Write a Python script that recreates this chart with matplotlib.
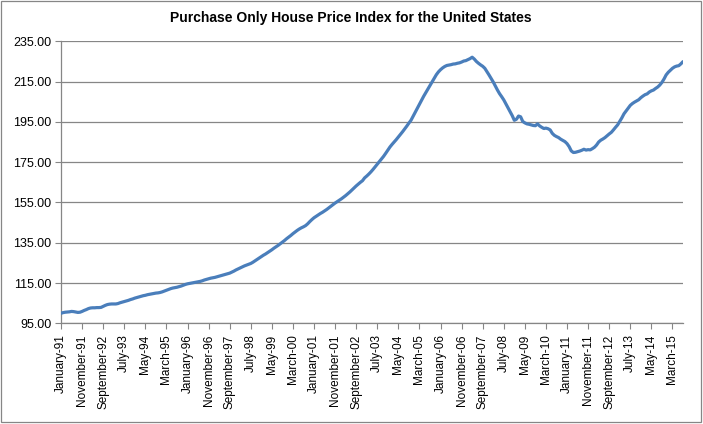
import matplotlib
matplotlib.use("Agg")
import matplotlib.pyplot as plt
import matplotlib.patches as mpatches
import matplotlib.ticker as mticker
import numpy as np
import pandas as pd

# ── Data: monthly purchase-only HPI, Jan 1991 = 100 ───────────────────────────
start_month = "1991-01"
hpi = [
    100.0, 100.3, 100.5, 100.6, 100.7, 100.9, 100.8, 100.6, 100.4, 100.5, 100.9, 101.4,  # 1991
    101.8, 102.3, 102.6, 102.7, 102.7, 102.8, 102.8, 102.9, 103.4, 103.9, 104.3, 104.5,  # 1992
    104.6, 104.6, 104.6, 104.8, 105.2, 105.5, 105.8, 106.1, 106.4, 106.8, 107.1, 107.5,  # 1993
    107.8, 108.1, 108.4, 108.7, 108.9, 109.2, 109.4, 109.6, 109.8, 110.0, 110.1, 110.3,  # 1994
    110.6, 111.0, 111.4, 111.8, 112.2, 112.5, 112.7, 112.9, 113.2, 113.5, 113.9, 114.3,  # 1995
    114.6, 114.8, 115.0, 115.2, 115.4, 115.6, 115.8, 116.1, 116.5, 116.8, 117.1, 117.4,  # 1996
    117.6, 117.8, 118.1, 118.4, 118.7, 119.0, 119.3, 119.6, 119.9, 120.4, 120.9, 121.5,  # 1997
    122.0, 122.5, 123.0, 123.5, 123.9, 124.3, 124.7, 125.3, 126.0, 126.7, 127.4, 128.1,  # 1998
    128.8, 129.4, 130.1, 130.8, 131.5, 132.3, 133.0, 133.7, 134.5, 135.3, 136.1, 137.0,  # 1999
    137.8, 138.6, 139.5, 140.3, 141.1, 141.8, 142.4, 142.9, 143.5, 144.4, 145.5, 146.5,  # 2000
    147.4, 148.1, 148.8, 149.5, 150.1, 150.8, 151.5, 152.3, 153.1, 153.9, 154.7, 155.4,  # 2001
    156.1, 156.8, 157.6, 158.4, 159.3, 160.2, 161.2, 162.2, 163.2, 164.1, 165.0, 165.8,  # 2002
    167.2, 168.1, 169.1, 170.2, 171.4, 172.7, 174.0, 175.3, 176.6, 177.9, 179.4, 181.0,  # 2003
    182.5, 183.8, 185.0, 186.2, 187.5, 188.8, 190.1, 191.5, 192.9, 194.4, 195.8, 197.8,  # 2004
    199.8, 201.8, 203.8, 205.8, 207.7, 209.5, 211.3, 213.2, 215.0, 216.8, 218.4, 219.8,  # 2005
    220.9, 221.8, 222.5, 223.0, 223.2, 223.4, 223.7, 223.8, 224.1, 224.3, 224.7, 225.2,  # 2006
    225.4, 225.9, 226.4, 227.1, 226.2, 225.0, 224.1, 223.3, 222.6, 221.6, 220.0, 218.3,  # 2007
    216.6, 214.8, 212.8, 210.8, 209.0, 207.5, 205.9, 203.9, 202.0, 200.1, 198.1, 195.8,  # 2008
    196.3, 197.9, 197.5, 195.2, 194.5, 194.0, 193.8, 193.5, 193.2, 193.1, 194.0, 193.0,  # 2009
    192.3, 191.7, 191.9, 191.6, 191.0, 189.3, 188.3, 187.7, 187.2, 186.4, 185.8, 185.2,  # 2010
    184.2, 182.7, 180.6, 179.8, 179.9, 180.2, 180.5, 180.9, 181.4, 181.0, 181.2, 181.1,  # 2011
    181.7, 182.4, 183.5, 185.0, 185.9, 186.5, 187.2, 188.1, 189.0, 189.8, 191.0, 192.3,  # 2012
    193.5, 195.2, 197.0, 199.0, 200.4, 201.8, 203.2, 204.1, 204.8, 205.4, 206.0, 207.0,  # 2013
    207.8, 208.5, 208.9, 209.8, 210.4, 210.8, 211.6, 212.3, 213.3, 214.6, 216.3, 218.3,  # 2014
    219.6, 220.6, 221.6, 222.3, 222.7, 222.9, 223.8, 224.9,                              # 2015
]
y_ticks = [95, 115, 135, 155, 175, 195, 215, 235]
label_every = 10
title = "Purchase Only House Price Index for the United States"

# ── Style ─────────────────────────────────────────────────────────────────────
LINE = "#4a7ebb"
GRID = "#868686"
TEXT = "#000000"
matplotlib.rcParams["font.family"] = ["Liberation Sans", "DejaVu Sans"]

months = pd.date_range(start_month, periods=len(hpi), freq="MS")
labels = [d.strftime("%B-%y") for d in months]
xs = np.arange(len(hpi))

fig = plt.figure(figsize=(7.03, 4.24), dpi=100, facecolor="white")
ax = fig.add_axes([61 / 703, 1 - 323.3 / 424, 622 / 703, 282 / 424])
ax.set_facecolor("white")

ax.plot(xs, hpi, color=LINE, lw=2.3, solid_capstyle="round", zorder=3)

ax.set_xlim(0, len(hpi) - 1)
ax.set_ylim(y_ticks[0], y_ticks[-1])
ax.set_yticks(y_ticks)
ax.yaxis.set_major_formatter(mticker.FormatStrFormatter("%.2f"))
ax.set_xticks(xs[::label_every])
ax.set_xticklabels(labels[::label_every], rotation=90, fontsize=8.5, color=TEXT)
ax.tick_params(axis="y", labelsize=9, colors=TEXT, length=4, width=0.8, color=GRID, pad=3)
ax.tick_params(axis="x", length=4, width=0.8, color=GRID, pad=4)

ax.grid(axis="y", color=GRID, lw=0.9, zorder=0)
ax.set_axisbelow(True)
for side in ("top", "right"):
    ax.spines[side].set_visible(False)
for side in ("left", "bottom"):
    ax.spines[side].set_color(GRID)
    ax.spines[side].set_linewidth(0.9)

fig.text(351 / 703, 1 - 18 / 424, title, ha="center", va="center",
         fontsize=10, fontweight="bold", color=TEXT)

# chart-area border
fig.patches.append(mpatches.Rectangle((1 / 703, 2 / 424), 700 / 703, 421 / 424,
                                      transform=fig.transFigure, fill=False,
                                      edgecolor=GRID, lw=0.9))

fig.savefig("out.png", dpi=100, facecolor="white")
